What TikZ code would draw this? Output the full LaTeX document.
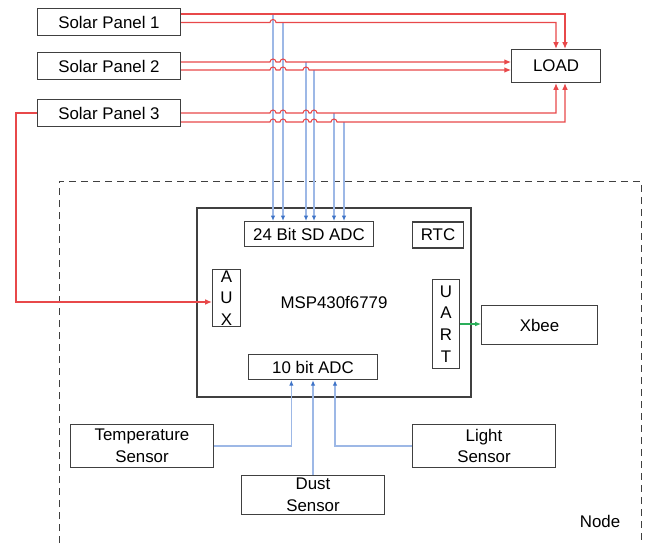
\documentclass[tikz,border=0pt]{standalone}
\usepackage{fontspec}
\setmainfont{Liberation Sans}
\usetikzlibrary{arrows.meta,positioning}
\definecolor{powred}   {HTML}{E8484A}
\definecolor{sigblue}  {HTML}{9DB8E6}
\definecolor{tipblue}  {HTML}{3F74C8}
\definecolor{uartgreen}{HTML}{2AAE5A}
\definecolor{edgegray} {HTML}{404040}

\begin{document}
\begin{tikzpicture}[
  x=0.3mm, y=-0.3mm,
  blk/.style  ={draw=edgegray,line width=0.9pt,fill=white,align=center,
                inner sep=0pt,font=\fontsize{14.4}{18.5}\selectfont},
  panel/.style={blk,minimum width=43mm,minimum height=8.2mm},
  sens/.style ={blk,minimum width=43mm,minimum height=13mm},
  pow/.style  ={draw=powred,line width=0.9pt,-{Latex[length=2mm,width=1.7mm]}},
  sig/.style  ={draw=sigblue,line width=0.9pt,
                -{Latex[length=1.6mm,width=1.3mm,color=tipblue]}},
  ser/.style  ={draw=uartgreen,line width=0.9pt,-{Latex[length=1.8mm,width=1.4mm]}},
  hop/.style  ={start angle=180,end angle=0,radius=0.9mm}
]
\useasboundingbox (0,0) rectangle (650,543);

%% node frame (runs off the bottom edge)
\draw[edgegray,line width=0.8pt,dash pattern=on 2.2mm off 1.4mm]
  (59,543) -- (59,181) -- (641,181) -- (641,543);

%% power sources and load
\node[panel] (sp1) at (109, 22)  {Solar Panel 1};
\node[panel] (sp2) at (109, 66)  {Solar Panel 2};
\node[panel] (sp3) at (109,113)  {Solar Panel 3};
\node[blk,minimum width=26.7mm,minimum height=10mm] (load) at (556,66) {LOAD};

%% microcontroller and its blocks
\node[blk,minimum width=82.2mm,minimum height=56.7mm] (msp) at (334,302.5) {MSP430f6779};
\node[blk,minimum width=38.7mm,minimum height=7.5mm] (adc24) at (309,234)   {24 Bit SD ADC};
\node[blk,minimum width=15.3mm,minimum height=7.8mm] (rtc)   at (438,235)   {RTC};
\node[blk,minimum width=8.5mm, minimum height=17.3mm] (aux)  at (226.5,298) {A\\U\\X};
\node[blk,minimum width=8.3mm, minimum height=26.5mm] (uart) at (446,324)   {U\\A\\R\\T};
\node[blk,minimum width=38.7mm,minimum height=7.6mm] (adc10) at (313,367)   {10 bit ADC};
\node[blk,minimum width=34.7mm,minimum height=11.6mm] (xbee) at (539.5,325) {Xbee};

%% sensors
\node[sens] (temp)  at (142,446) {Temperature\\Sensor};
\node[sens] (light) at (484,446) {Light\\Sensor};
\node[blk,minimum width=43mm,minimum height=11.6mm] (dust) at (313,495) {Dust\\Sensor};

\node[font=\fontsize{14.4}{18.5}\selectfont] (nodelbl) at (600,521) {Node};

%% voltage taps -> 24 bit ADC
\foreach \i/\tx/\ty in {1/273/14, 2/283/22.5, 3/306/62, 4/314/70, 5/334/113, 6/344/122}
  \coordinate (tap\i) at (\tx,\ty);
\foreach \i in {1,...,6}
  \draw[sig] (tap\i) -- (tap\i |- adc24.north);

%% panel outputs -> LOAD (hops over the tap lines)
\draw[pow] (sp1.east |- 0,14) -| ([xshift=2.7mm]load.north);
\draw[pow] (sp1.east |- 0,22.5)
  \foreach \h in {273} {-- (\h-3,22.5) arc[hop]} -| (load.north);
\draw[pow] (sp2.east |- 0,62)
  \foreach \h in {273,283} {-- (\h-3,62) arc[hop]} -- (load.west |- 0,62);
\draw[pow] (sp2.east |- 0,70)
  \foreach \h in {273,283,306} {-- (\h-3,70) arc[hop]} -- (load.west |- 0,70);
\draw[pow] (sp3.east |- 0,113)
  \foreach \h in {273,283,306,314} {-- (\h-3,113) arc[hop]} -| (load.south);
\draw[pow] (sp3.east |- 0,122)
  \foreach \h in {273,283,306,314,334} {-- (\h-3,122) arc[hop]} -| ([xshift=2.7mm]load.south);

%% panel 3 -> AUX
\draw[pow] (sp3.west) -- (16,113) |- ([yshift=-1.2mm]aux.west);

%% UART -> Xbee
\draw[ser] (uart.east) -- (uart.east -| xbee.west);

%% sensors -> 10 bit ADC
\draw[sig] (temp.east)  -| ([xshift=-6.5mm]adc10.south);
\draw[sig] (dust.north) -- (adc10.south);
\draw[sig] (light.west) -| ([xshift=6.6mm]adc10.south);

\end{tikzpicture}
\end{document}
